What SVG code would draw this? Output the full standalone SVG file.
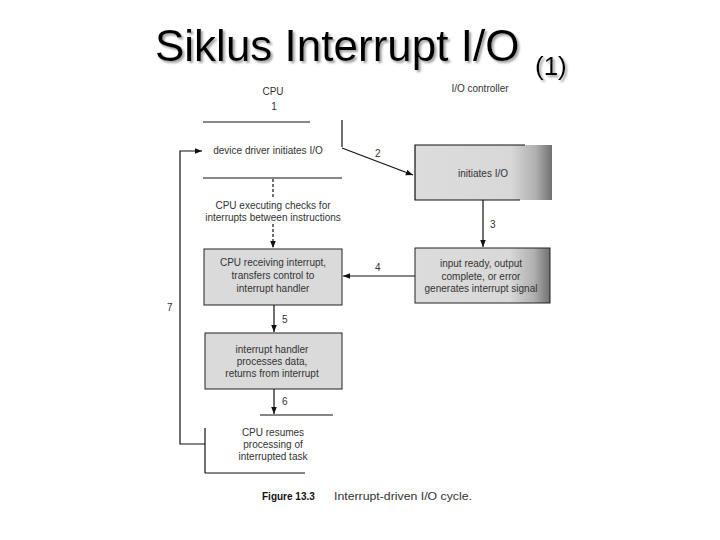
<svg xmlns="http://www.w3.org/2000/svg" width="720" height="540" viewBox="0 0 720 540">
<defs>
<linearGradient id="gr" x1="0" x2="1" y1="0" y2="0">
<stop offset="0" stop-color="#dcdcdc"/>
<stop offset="0.7" stop-color="#d8d8d8"/>
<stop offset="0.88" stop-color="#b0b0b0"/>
<stop offset="1" stop-color="#707070"/>
</linearGradient>
<filter id="sh" x="-5%" y="-20%" width="110%" height="140%">
<feDropShadow dx="2" dy="2" stdDeviation="1" flood-color="#888" flood-opacity="0.8"/>
</filter>
<marker id="ah" viewBox="0 0 10 10" refX="10" refY="5" markerWidth="6" markerHeight="6" orient="auto">
<path d="M0,1 L10,5 L0,9 z" fill="#111"/>
</marker>
</defs>
<style>
.t{font-family:"Liberation Sans",Arial,sans-serif;font-size:10px;fill:#333;text-anchor:middle}
.n{font-family:"Liberation Sans",Arial,sans-serif;font-size:10px;fill:#333}
.ln{stroke:#111;stroke-width:1.2;fill:none}
.gb{fill:#dadada;stroke:#222;stroke-width:1}
.ttl{font-family:"Liberation Sans",Arial,sans-serif;fill:#000;filter:url(#sh)}
</style>
<rect width="720" height="540" fill="#fff"/>
<g id="title">
<text class="ttl" x="155" y="61" font-size="44">Siklus Interrupt I/O</text>
<text class="ttl" x="535" y="75" font-size="26">(1)</text>
</g>
<g id="headers">
<text class="t" x="273" y="95">CPU</text>
<text class="t" x="274" y="110" font-size="8">1</text>
<text class="t" x="480" y="92">I/O controller</text>
</g>
<g id="n1">
<line class="ln" x1="203" y1="122" x2="310" y2="122"/>
<line class="ln" x1="342" y1="120" x2="342" y2="147"/>
<line class="ln" x1="203" y1="178" x2="342" y2="178"/>
<text class="t" x="268" y="154">device driver initiates I/O</text>
</g>
<g id="n2">
<rect x="415" y="145" width="137" height="55" style="fill:url(#gr)"/>
<polyline class="ln" points="525,145 415,145 415,200 520,200"/>
<text class="t" x="483" y="177">initiates I/O</text>
</g>
<g id="n3">
<text class="t" x="273" y="209">CPU executing checks for</text>
<text class="t" x="273" y="221">interrupts between instructions</text>
</g>
<g id="n4">
<rect class="gb" x="415" y="248" width="135" height="55" style="fill:url(#gr)"/>
<text class="t" x="481" y="267">input ready, output</text>
<text class="t" x="481" y="280">complete, or error</text>
<text class="t" x="481" y="292">generates interrupt signal</text>
</g>
<g id="n5">
<rect class="gb" x="204" y="249" width="138" height="56"/>
<text class="t" x="273" y="266">CPU receiving interrupt,</text>
<text class="t" x="273" y="279">transfers control to</text>
<text class="t" x="273" y="292">interrupt handler</text>
</g>
<g id="n6">
<rect class="gb" x="205" y="333" width="137" height="56"/>
<text class="t" x="272" y="353">interrupt handler</text>
<text class="t" x="272" y="365">processes data,</text>
<text class="t" x="272" y="377">returns from interrupt</text>
</g>
<g id="n7">
<line class="ln" x1="260" y1="415" x2="333" y2="415"/>
<line class="ln" x1="205" y1="428" x2="205" y2="473"/>
<line class="ln" x1="205" y1="473" x2="305" y2="473"/>
<text class="t" x="273" y="436">CPU resumes</text>
<text class="t" x="273" y="448">processing of</text>
<text class="t" x="273" y="460">interrupted task</text>
</g>
<g id="connectors">
<line class="ln" x1="342" y1="148" x2="413" y2="175" marker-end="url(#ah)"/>
<text class="n" x="375" y="157">2</text>
<line class="ln" x1="273" y1="179" x2="273" y2="199" stroke-dasharray="3,2"/>
<line class="ln" x1="273" y1="224" x2="273" y2="248" stroke-dasharray="3,2" marker-end="url(#ah)"/>
<line class="ln" x1="483" y1="200" x2="483" y2="247" marker-end="url(#ah)"/>
<text class="n" x="490" y="228">3</text>
<line class="ln" x1="415" y1="276" x2="343" y2="276" marker-end="url(#ah)"/>
<text class="n" x="375" y="271">4</text>
<line class="ln" x1="274" y1="305" x2="274" y2="332" marker-end="url(#ah)"/>
<text class="n" x="282" y="323">5</text>
<line class="ln" x1="274" y1="389" x2="274" y2="414" marker-end="url(#ah)"/>
<text class="n" x="282" y="405">6</text>
<polyline class="ln" points="205,444 180,444 180,151 202,151" marker-end="url(#ah)"/>
<text class="n" x="167" y="311">7</text>
</g>
<g id="caption">
<text x="262" y="500" font-family="'Liberation Sans',Arial,sans-serif" font-size="10" font-weight="bold" fill="#111">Figure 13.3</text>
<text x="334" y="500" font-family="'Liberation Sans',Arial,sans-serif" font-size="11" fill="#333" textLength="138" lengthAdjust="spacingAndGlyphs">Interrupt-driven I/O cycle.</text>
</g>
</svg>
